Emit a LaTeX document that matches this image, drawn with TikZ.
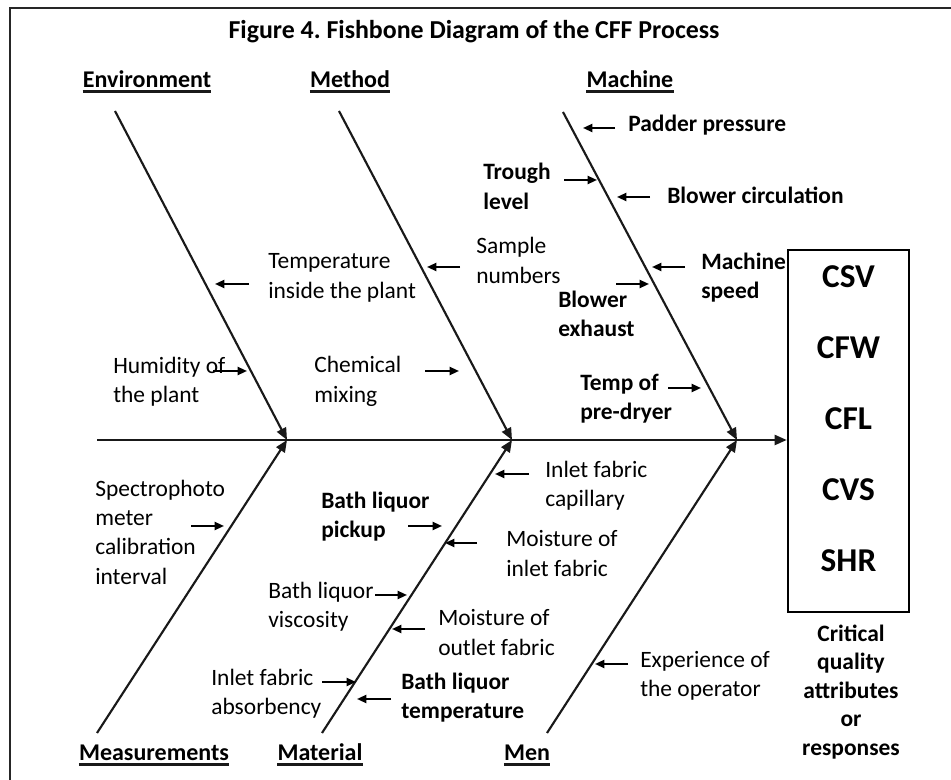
\documentclass[tikz,border=0pt]{standalone}
\usepackage{fontspec}
\setmainfont{Carlito}
\usetikzlibrary{arrows.meta,positioning}

\begin{document}
\begin{tikzpicture}[x=0.75pt, y=-0.75pt,
    every node/.style={inner sep=0pt, align=left, font=\fontsize{17.6}{22}\selectfont},
    cause/.style={anchor=west},
    boldcause/.style={anchor=west, font=\fontsize{17.6}{22}\selectfont\bfseries},
    cat/.style={anchor=base, font=\fontsize{18}{22}\selectfont\bfseries},
    ul/.style={draw=black!90, line width=2.2pt},
    attr/.style={font=\fontsize{25}{28}\selectfont\bfseries},
    bone/.style={draw=black!90, line width=1.6pt, -{Triangle[length=9pt,width=7.5pt]}},
    tick/.style={draw=black, line width=1.5pt, -{Triangle[length=7pt,width=6pt]}}]

    \useasboundingbox (0,0) rectangle (951,780);
    \draw[line width=1.9pt, black!85] (10,780) -- (10,8) -- (951,8);

    % Title and categories
    \node[font=\fontsize{19.4}{22}\selectfont\bfseries] (title) at (474,32) {Figure 4.\ Fishbone Diagram of the CFF Process};
    \node[cat] (env) at (147,87.5) {Environment};
    \node[cat] (meth) at (350,87.5) {Method};
    \node[cat] (mach) at (630,87.5) {Machine};
    \node[cat] (meas) at (154,760.5) {Measurements};
    \node[cat] (mat) at (320,760.5) {Material};
    \node[cat] (men) at (527,760.5) {Men};
    \draw[ul] ([yshift=-2.7pt]env.base west) -- ([yshift=-2.7pt]env.base east);
    \draw[ul] ([yshift=-2.7pt]meth.base west) -- ([yshift=-2.7pt]meth.base east);
    \draw[ul] ([yshift=-2.7pt]mach.base west) -- ([yshift=-2.7pt]mach.base east);
    \draw[ul] ([yshift=-2.7pt]meas.base west) -- ([yshift=-2.7pt]meas.base east);
    \draw[ul] ([yshift=-2.7pt]mat.base west) -- ([yshift=-2.7pt]mat.base east);
    \draw[ul] ([yshift=-2.7pt]men.base west) -- ([yshift=-2.7pt]men.base east);

    % Effect box
    \node[draw, line width=1.9pt, minimum width=90.75pt, minimum height=271.5pt] (box) at (848.5,431) {};
    \node[attr] (csv) at (848.5,277) {CSV};
    \node[attr] (cfw) at (848.5,348) {CFW};
    \node[attr] (cfl) at (848.5,419) {CFL};
    \node[attr] (cvs) at (848.5,490) {CVS};
    \node[attr] (shr) at (848.5,561) {SHR};
    \node[align=center, font=\fontsize{17.6}{21.4}\selectfont\bfseries] (cqa) at (851,692) {Critical\\quality\\attributes\\or\\responses};

    % Spine and bones
    \coordinate (tail) at (97,440);
    \coordinate (j1) at (287,440);
    \coordinate (j2) at (512,440);
    \coordinate (j3) at (737,440);
    \coordinate (envtop) at (115,111);
    \coordinate (methtop) at (339,111);
    \coordinate (machtop) at (563,112);
    \coordinate (measbot) at (97,733);
    \coordinate (matbot) at (322,733);
    \coordinate (menbot) at (547,733);

    \draw[bone] (tail) -- (tail -| box.west);
    \draw[bone] (envtop) -- (j1);
    \draw[bone] (methtop) -- (j2);
    \draw[bone] (machtop) -- (j3);
    \draw[bone] (measbot) -- (j1);
    \draw[bone] (matbot) -- (j2);
    \draw[bone] (menbot) -- (j3);

    % Causes
    \node[cause] (tip) at (268,278) {Temperature\\inside the plant};
    \node[cause] (hum) at (113,381.5) {Humidity of\\the plant};
    \node[cause] (chem) at (314,381.5) {Chemical\\mixing};
    \node[cause] (samp) at (476,260.5) {Sample\\numbers};
    \node[boldcause] (padd) at (628,125) {Padder pressure};
    \node[boldcause] (trough) at (483,186.5) {Trough\\level};
    \node[boldcause] (bcirc) at (667,195) {Blower circulation};
    \node[boldcause] (mspeed) at (701,277.5) {Machine\\speed};
    \node[boldcause] (bexh) at (558,314) {Blower\\exhaust};
    \node[boldcause] (predry) at (580,399) {Temp of\\pre-dryer};
    \node[cause] (spec) at (95,532) {Spectrophoto\\meter\\calibration\\interval};
    \node[boldcause] (pickup) at (321,516.5) {Bath liquor\\pickup};
    \node[cause] (visc) at (268,606.5) {Bath liquor\\viscosity};
    \node[cause] (absb) at (211,693.5) {Inlet fabric\\absorbency};
    \node[boldcause] (btemp) at (401,697.5) {Bath liquor\\temperature};
    \node[cause] (capil) at (545,485.5) {Inlet fabric\\capillary};
    \node[cause] (minl) at (506,553.5) {Moisture of\\inlet fabric};
    \node[cause] (mout) at (438,632.5) {Moisture of\\outlet fabric};
    \node[cause] (expr) at (640,675.5) {Experience of\\the operator};

    % Small arrows
    \coordinate (padd-a) at (615,128);  \coordinate (padd-b) at (583,128);
    \coordinate (trough-a) at (564,180); \coordinate (trough-b) at (597,180);
    \coordinate (bcirc-a) at (650,197); \coordinate (bcirc-b) at (617,197);
    \coordinate (samp-a) at (460,267);  \coordinate (samp-b) at (427,267);
    \coordinate (mspeed-a) at (685,267); \coordinate (mspeed-b) at (652,267);
    \coordinate (bexh-a) at (616,284);  \coordinate (bexh-b) at (649,284);
    \coordinate (tip-a) at (249,284);   \coordinate (tip-b) at (215,284);
    \coordinate (hum-a) at (213,371);   \coordinate (hum-b) at (247,371);
    \coordinate (chem-a) at (425,371);  \coordinate (chem-b) at (459,371);
    \coordinate (predry-a) at (668,388); \coordinate (predry-b) at (701,388);
    \coordinate (capil-a) at (529,474); \coordinate (capil-b) at (495,474);
    \coordinate (spec-a) at (191,526);  \coordinate (spec-b) at (224,526);
    \coordinate (pickup-a) at (408,526); \coordinate (pickup-b) at (442,526);
    \coordinate (minl-a) at (477,543);  \coordinate (minl-b) at (445,543);
    \coordinate (visc-a) at (375,595);  \coordinate (visc-b) at (407,595);
    \coordinate (mout-a) at (425,629);  \coordinate (mout-b) at (392,629);
    \coordinate (absb-a) at (322,682);  \coordinate (absb-b) at (356,682);
    \coordinate (btemp-a) at (391,699); \coordinate (btemp-b) at (357,699);
    \coordinate (expr-a) at (628,664);  \coordinate (expr-b) at (595,664);

    \draw[tick] (padd-a) -- (padd-b);
    \draw[tick] (trough-a) -- (trough-b);
    \draw[tick] (bcirc-a) -- (bcirc-b);
    \draw[tick] (samp-a) -- (samp-b);
    \draw[tick] (mspeed-a) -- (mspeed-b);
    \draw[tick] (bexh-a) -- (bexh-b);
    \draw[tick] (tip-a) -- (tip-b);
    \draw[tick] (hum-a) -- (hum-b);
    \draw[tick] (chem-a) -- (chem-b);
    \draw[tick] (predry-a) -- (predry-b);
    \draw[tick] (capil-a) -- (capil-b);
    \draw[tick] (spec-a) -- (spec-b);
    \draw[tick] (pickup-a) -- (pickup-b);
    \draw[tick] (minl-a) -- (minl-b);
    \draw[tick] (visc-a) -- (visc-b);
    \draw[tick] (mout-a) -- (mout-b);
    \draw[tick] (absb-a) -- (absb-b);
    \draw[tick] (btemp-a) -- (btemp-b);
    \draw[tick] (expr-a) -- (expr-b);

\end{tikzpicture}
\end{document}
